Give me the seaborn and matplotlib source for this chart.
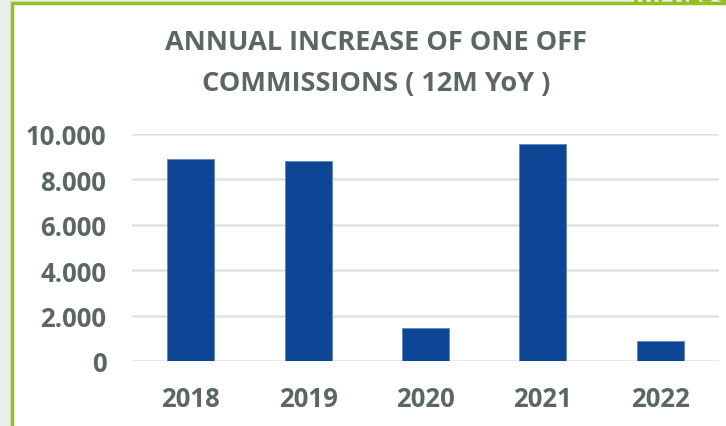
import matplotlib
matplotlib.use("Agg")
import matplotlib.pyplot as plt
from matplotlib.patches import Rectangle
from matplotlib.ticker import FuncFormatter
import seaborn as sns
import pandas as pd

years = ["2018", "2019", "2020", "2021", "2022"]
values = [8900, 8800, 1450, 9560, 880]
y_ticks = [0, 2000, 4000, 6000, 8000, 10000]
title_lines = ["ANNUAL INCREASE OF ONE OFF", "COMMISSIONS ( 12M YoY )"]

sns.set_theme(style="white")
plt.rcParams["font.family"] = ["Open Sans", "DejaVu Sans"]

TEXT = "#5b6666"
BAR = "#0c4594"
GREEN = "#93c01f"

W, H = 726, 427
fig = plt.figure(figsize=(W / 100, H / 100), dpi=100)
fig.patch.set_facecolor("#ebecec")

# white panel with green frame behind the chart
panel = Rectangle((12 / W, -0.01), 1.0, (H - 4) / H + 0.01, transform=fig.transFigure,
                  facecolor="white", edgecolor=GREEN, linewidth=2.5, zorder=-10)
fig.patches.append(panel)
fig.text(632 / W, 1 - 8 / H, "III. RESULTS", color=GREEN, fontsize=18, fontweight="bold",
         ha="left", va="bottom", zorder=1)

ax = fig.add_axes([132 / W, 65 / H, (719 - 132) / W, (362 - 135) / H])
ax.set_facecolor("none")
df = pd.DataFrame({"year": years, "value": values})
sns.barplot(data=df, x="year", y="value", color=BAR, width=0.4, ax=ax,
            edgecolor="#5f86c0", linewidth=0.6, saturation=1, zorder=3)

ax.set_ylim(0, 10000)
ax.set_yticks(y_ticks)
ax.yaxis.set_major_formatter(FuncFormatter(lambda v, p: f"{int(v):,}".replace(",", ".")))
ax.grid(axis="y", color="#e2e2e2", linewidth=1.8, zorder=0)
ax.set_axisbelow(True)
for s in ax.spines.values():
    s.set_visible(False)
ax.tick_params(axis="y", length=0, pad=18.5, labelsize=18.5, labelcolor=TEXT)
ax.tick_params(axis="x", length=0, pad=17, labelsize=18.5, labelcolor=TEXT)
for lab in ax.get_xticklabels() + ax.get_yticklabels():
    lab.set_fontweight("bold")
ax.set_xlabel("")
ax.set_ylabel("")

for line, yc in zip(title_lines, [43, 84]):
    fig.text(376 / W, 1 - yc / H, line, ha="center", va="center", color=TEXT,
             fontsize=19.5, fontweight="bold")

fig.savefig("out.png", dpi=100, facecolor=fig.get_facecolor())
